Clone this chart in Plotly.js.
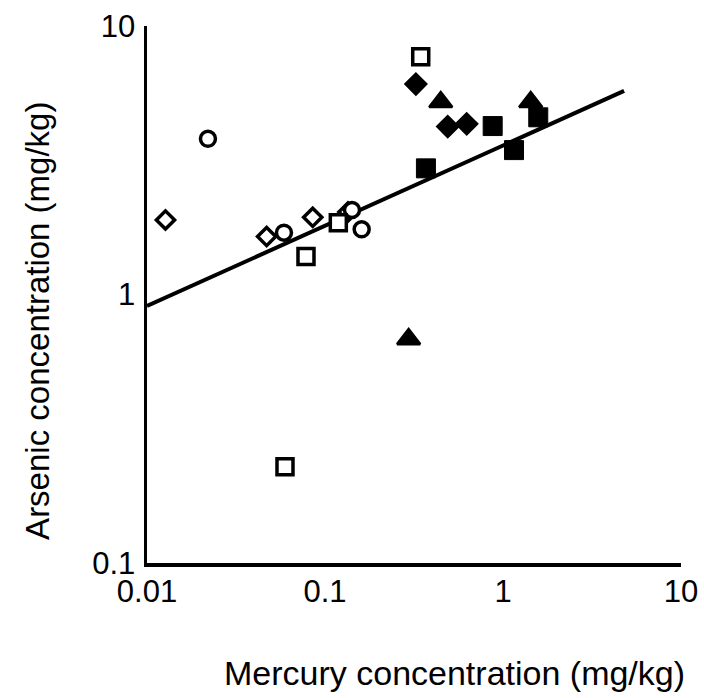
<!DOCTYPE html>
<html>
<head>
<meta charset="utf-8">
<script src="https://cdn.plot.ly/plotly-3.0.1.min.js"></script>
<style>html,body{margin:0;padding:0;background:#fff;}#chart{width:704px;height:698px;}</style>
</head>
<body>
<div id="chart"></div>
<script>
// Open diamonds
const openDiamondX = [0.0127, 0.0470, 0.0853, 0.1346];
const openDiamondY = [1.895, 1.644, 1.939, 2.029];
// Open circles
const openCircleX = [0.0220, 0.0588, 0.1418, 0.1607];
const openCircleY = [3.80, 1.699, 2.064, 1.749];
// Open squares
const openSquareX = [0.345, 0.1188, 0.0782, 0.0596];
const openSquareY = [7.69, 1.851, 1.385, 0.2285];
// Filled diamonds
const filledDiamondX = [0.324, 0.489, 0.625];
const filledDiamondY = [6.08, 4.22, 4.32];
// Filled triangles
const filledTriangleX = [0.447, 1.431, 0.295];
const filledTriangleY = [5.21, 5.21, 0.682];
// Filled squares
const filledSquareX = [0.369, 0.875, 1.153, 1.578];
const filledSquareY = [2.95, 4.24, 3.45, 4.57];
// Trend line (power fit) endpoints
const trendX = [0.01, 4.79];
const trendY = [0.906, 5.73];

const xTickVals = [0.01, 0.1, 1, 10];
const xTickText = ['0.01', '0.1', '1', '10'];
const yTickVals = [0.1, 1, 10];
const yTickText = ['0.1', '1', '10'];

const xTitle = 'Mercury concentration (mg/kg)';
const yTitle = 'Arsenic concentration (mg/kg)';

const FONT = 'Arial, "Liberation Sans", sans-serif';

function pts(x, y, symbol, size, fill, lw) {
  return {
    x: x, y: y, type: 'scatter', mode: 'markers', showlegend: false,
    cliponaxis: false,
    marker: {symbol: symbol, size: size, color: fill, line: {color: '#000', width: lw}}
  };
}

const data = [
  {x: trendX, y: trendY, type: 'scatter', mode: 'lines', showlegend: false,
   line: {color: '#000', width: 4}},
  pts(openDiamondX, openDiamondY, 'diamond', 14, '#fff', 3.5),
  pts(openCircleX, openCircleY, 'circle', 15, '#fff', 3.5),
  pts(openSquareX, openSquareY, 'square', 16, '#fff', 3.5),
  pts(filledDiamondX, filledDiamondY, 'diamond', 17, '#000', 1.5),
  pts(filledTriangleX, filledTriangleY, 'triangle-up', 20, '#000', 2.5),
  pts(filledSquareX, filledSquareY, 'square', 19, '#000', 1)
];

const layout = {
  width: 704, height: 698,
  margin: {l: 147, r: 23, t: 26, b: 135},
  paper_bgcolor: '#fff', plot_bgcolor: '#fff',
  font: {family: FONT, color: '#000', size: 31},
  showlegend: false,
  xaxis: {
    type: 'log', range: [-2, 1],
    tickvals: xTickVals, ticktext: xTickText,
    showgrid: false, zeroline: false,
    showline: true, linecolor: '#000', linewidth: 3.5,
    ticks: '', ticklabelstandoff: -2,
    tickfont: {family: FONT, size: 31, color: '#000'}
  },
  yaxis: {
    type: 'log', range: [-1, 1],
    tickvals: yTickVals, ticktext: yTickText,
    showgrid: false, zeroline: false,
    showline: true, linecolor: '#000', linewidth: 3.5,
    ticks: '', ticklabelstandoff: 2,
    tickfont: {family: FONT, size: 31, color: '#000'}
  },
  annotations: [
    {text: xTitle, xref: 'paper', yref: 'paper', x: 0.575, y: -0.205,
     xanchor: 'center', yanchor: 'middle', showarrow: false,
     font: {family: FONT, size: 34, color: '#000'}},
    {text: yTitle, xref: 'paper', yref: 'paper', x: -0.205, y: 0.45,
     xanchor: 'center', yanchor: 'middle', showarrow: false, textangle: -90,
     font: {family: FONT, size: 33, color: '#000'}}
  ]
};

Plotly.newPlot('chart', data, layout, {displayModeBar: false, staticPlot: true});
</script>
</body>
</html>
